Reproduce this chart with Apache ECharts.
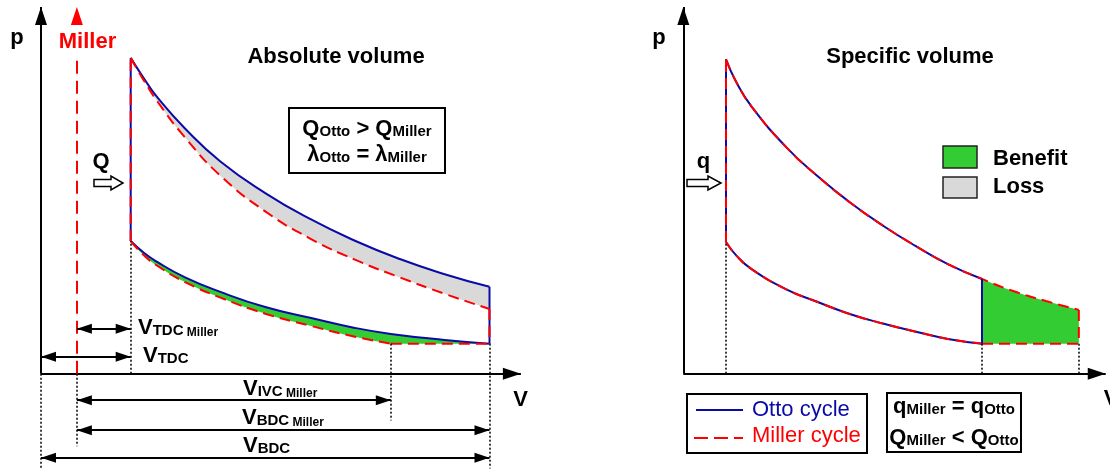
<!DOCTYPE html>
<html>
<head>
<meta charset="utf-8">
<title>Otto vs Miller cycle</title>
<script src="https://cdn.jsdelivr.net/npm/echarts@6/dist/echarts.min.js"></script>
<style>
  html, body { margin: 0; padding: 0; background: #ffffff; }
  #chart { width: 1110px; height: 470px; }
</style>
</head>
<body>
<div id="chart"></div>
<script>
// p–V diagrams of the Otto and the Miller cycle (arbitrary units)

// ---- Absolute volume ----
const vExpansion        = [1, 1.15, 1.3, 1.6, 2.0, 2.5, 3.0, 3.5, 4.0, 4.5, 5.0];
const pOttoExpansion    = [10.0, 9.34, 8.74, 7.78, 6.72, 5.72, 4.90, 4.21, 3.63, 3.15, 2.75];
const pMillerExpansion  = [10.0, 9.27, 8.61, 7.50, 6.27, 5.14, 4.28, 3.61, 3.05, 2.53, 2.05];
const vCompression      = [1, 1.15, 1.3, 1.6, 2.0, 2.5, 3.0, 3.5, 3.9, 4.5, 5.0];
const pOttoCompression  = [4.20, 3.82, 3.53, 3.06, 2.59, 2.11, 1.77, 1.45, 1.26, 1.07, 0.95];
const pMillerCompression= [4.20, 3.74, 3.41, 2.91, 2.41, 1.90, 1.52, 1.17, 0.95, 0.95, 0.95];
const V_TDC = 1, V_TDC_MILLER = 0.4, V_IVC_MILLER = 3.9, V_BDC = 5;
const P_EXHAUST = 0.95;
const IVC_INDEX = vCompression.indexOf(V_IVC_MILLER);

// ---- Specific volume ----
const vSpec             = [1, 1.25, 1.6, 2.4, 3.15, 3.9, 4.7, 5.45, 6.2, 7.0];
const pSpecExpansion    = [9.95, 9.21, 8.46, 7.19, 6.25, 5.43, 4.67, 4.04, 3.47, 3.0];
const pSpecCompression  = [4.17, 3.73, 3.31, 2.68, 2.27, 1.89, 1.58, 1.33, 1.10, 0.95];
const vSpecMiller       = [7.0, 7.75, 8.5, 9.27];
const pSpecMillerExpansion = [3.0, 2.61, 2.30, 2.02];
const V_BDC_SPEC = 7.0, V_BDC_SPEC_MILLER = 9.27;

// ---- layout (pixels per unit, axis ranges) ----
const Y0 = 375, SY = 31.69, P_MIN = -3.05, P_MAX = 11.83;
const LEFT  = { x0: 41,    sx: 89.7, vMin: -0.3, vMax: 5.5 };
const RIGHT = { x0: 683.5, sx: 43.3, vMin: -0.3, vMax: 10.0 };
const P_AXIS_END = 11.61;
const LEVEL = { tdcMiller: 1.42, tdc: 0.54, ivcMiller: -0.84, bdcMiller: -1.79, bdc: -2.66, floor: -3.0 };

const BLUE = '#0a0aa6', RED = '#ff0000', GREEN = '#33cc33', GREY = '#d9d9d9';
const FONT = '"Liberation Sans", Arial, Helvetica, sans-serif';
const DASH = [11, 6];
const SMOOTH = 0.5;

const pts = (xs, ys) => xs.map((x, i) => [x, ys[i]]);

function gridFor(c) {
  return { left: c.x0 + c.vMin * c.sx, width: (c.vMax - c.vMin) * c.sx,
           top: Y0 - P_MAX * SY, height: (P_MAX - P_MIN) * SY, containLabel: false, show: false };
}

function curve(g, data, color, dashed, z, smooth) {
  return {
    type: 'line', xAxisIndex: g, yAxisIndex: g, data, smooth: smooth ? SMOOTH : false,
    symbol: 'none', clip: false, silent: true, z,
    lineStyle: { color, width: 2, type: dashed ? DASH : 'solid', cap: 'butt' }
  };
}

// cubic segments through pixel points P[i0..i1], control points built like the line smoothing
function smoothSegments(P, i0, i1) {
  const n = P.length, cOut = [], cIn = [];
  for (let i = 0; i < n; i++) {
    const p = P[i];
    if (i === 0 || i === n - 1) { cOut[i] = p; cIn[i] = p; continue; }
    const a = P[i - 1], b = P[i + 1];
    const vx = b[0] - a[0], vy = b[1] - a[1];
    const lp = Math.hypot(p[0] - a[0], p[1] - a[1]);
    const ln = Math.hypot(b[0] - p[0], b[1] - p[1]);
    const r = ln / (lp + ln);
    cOut[i] = [p[0] + vx * SMOOTH * r, p[1] + vy * SMOOTH * r];
    cIn[i] = [p[0] - vx * SMOOTH * (1 - r), p[1] - vy * SMOOTH * (1 - r)];
  }
  let d = '';
  for (let i = i0; i < i1; i++) {
    d += ' C' + cOut[i][0] + ',' + cOut[i][1] + ' ' + cIn[i + 1][0] + ',' + cIn[i + 1][1] +
         ' ' + P[i + 1][0] + ',' + P[i + 1][1];
  }
  return d;
}

// closed region whose outline is a chain of pieces: {data, from, to, smooth, reverse}
function region(g, pieces, color, z) {
  return {
    type: 'custom', coordinateSystem: 'cartesian2d', xAxisIndex: g, yAxisIndex: g,
    data: [[0, 0]], silent: true, clip: false, z: z || 1,
    renderItem: function (params, api) {
      let d = '';
      pieces.forEach(function (pc, k) {
        let P = pc.data.map(function (v) { return api.coord(v); });
        let from = pc.from == null ? 0 : pc.from;
        let to = pc.to == null ? P.length - 1 : pc.to;
        if (pc.reverse) {
          P = P.slice().reverse();
          const n = P.length - 1, f = n - to, t = n - from;
          from = f; to = t;
        }
        d += (k === 0 ? 'M' : ' L') + P[from][0] + ',' + P[from][1];
        if (pc.smooth) d += smoothSegments(P, from, to);
        else for (let i = from + 1; i <= to; i++) d += ' L' + P[i][0] + ',' + P[i][1];
      });
      d += ' Z';
      return { type: 'path', shape: { pathData: d }, style: { fill: color, stroke: null } };
    }
  };
}

function seg(a, b, style, headFrom, headTo) {
  const end = (coord, head) => head
    ? { coord, symbol: 'triangle', symbolSize: head, symbolOffset: [0, '50%'], itemStyle: { color: style.color } }
    : { coord, symbol: 'none' };
  const from = end(a, headFrom);
  from.lineStyle = style;
  return [from, end(b, headTo)];
}

function guides(g, lines, points) {
  const s = {
    type: 'line', xAxisIndex: g, yAxisIndex: g, data: [[0, 0]], symbol: 'none', clip: false,
    silent: true, z: 6, color: '#000', lineStyle: { opacity: 0 },
    markLine: { silent: true, symbol: ['none', 'none'], label: { show: false },
                emphasis: { disabled: true }, animation: false, data: lines }
  };
  if (points) s.markPoint = { silent: true, label: { show: false }, animation: false, data: points };
  return s;
}

const axisStyle  = { color: '#000', width: 2, type: 'solid' };
const arrowStyle = { color: '#000', width: 1.8, type: 'solid' };
const dotStyle   = { color: '#000', width: 1.5, type: [2, 2] };
const millerMark = { color: RED, width: 2, type: [13, 7] };
const AXIS_HEAD = [12, 18], HEAD = [10, 15];

const leftGuides = [
  seg([0, 0], [0, P_AXIS_END], axisStyle, null, AXIS_HEAD),
  seg([0, 0], [5.35, 0], axisStyle, null, AXIS_HEAD),
  seg([V_TDC_MILLER, 0], [V_TDC_MILLER, 10.03], millerMark),
  seg([0, 0], [0, LEVEL.floor], dotStyle),
  seg([V_TDC_MILLER, 0], [V_TDC_MILLER, -2.30], dotStyle),
  seg([V_TDC, 0], [V_TDC, pOttoCompression[0]], dotStyle),
  seg([V_IVC_MILLER, P_EXHAUST], [V_IVC_MILLER, -1.48], dotStyle),
  seg([V_BDC, P_EXHAUST], [V_BDC, LEVEL.floor], dotStyle),
  seg([V_TDC_MILLER, LEVEL.tdcMiller], [V_TDC, LEVEL.tdcMiller], arrowStyle, HEAD, HEAD),
  seg([0, LEVEL.tdc], [V_TDC, LEVEL.tdc], arrowStyle, HEAD, HEAD),
  seg([V_TDC_MILLER, LEVEL.ivcMiller], [V_IVC_MILLER, LEVEL.ivcMiller], arrowStyle, HEAD, HEAD),
  seg([V_TDC_MILLER, LEVEL.bdcMiller], [V_BDC, LEVEL.bdcMiller], arrowStyle, HEAD, HEAD),
  seg([0, LEVEL.bdc], [V_BDC, LEVEL.bdc], arrowStyle, HEAD, HEAD)
];
const millerHead = [{ coord: [V_TDC_MILLER, 11.33], symbol: 'triangle', symbolSize: [12, 18], itemStyle: { color: RED } }];

const rightGuides = [
  seg([0, 0], [0, P_AXIS_END], axisStyle, null, AXIS_HEAD),
  seg([0, 0], [9.9, 0], axisStyle, null, AXIS_HEAD),
  seg([V_TDC, 0], [V_TDC, pSpecCompression[0]], dotStyle),
  seg([V_BDC_SPEC, 0], [V_BDC_SPEC, P_EXHAUST], dotStyle),
  seg([V_BDC_SPEC_MILLER, 0], [V_BDC_SPEC_MILLER, P_EXHAUST], dotStyle)
];

const millerExpansionSpec = pts(vSpec.concat(vSpecMiller.slice(1)), pSpecExpansion.concat(pSpecMillerExpansion.slice(1)));

const series = [
  // loss: between Otto and Miller expansion
  region(0, [
    { data: pts(vExpansion, pOttoExpansion), smooth: true },
    { data: pts(vExpansion, pMillerExpansion), smooth: true, reverse: true }
  ], GREY),
  // benefit: between Otto and Miller compression
  region(0, [
    { data: pts(vCompression, pOttoCompression), smooth: true },
    { data: [[V_BDC, P_EXHAUST], [V_IVC_MILLER, P_EXHAUST]] },
    { data: pts(vCompression.slice(0, IVC_INDEX + 1), pMillerCompression.slice(0, IVC_INDEX + 1)), smooth: true, reverse: true }
  ], GREEN),
  // benefit: extended Miller expansion (specific volume)
  region(1, [
    { data: millerExpansionSpec, from: vSpec.length - 1, smooth: true },
    { data: [[V_BDC_SPEC_MILLER, P_EXHAUST], [V_BDC_SPEC, P_EXHAUST]] }
  ], GREEN),

  guides(0, leftGuides, millerHead),
  guides(1, rightGuides),

  // Otto cycle, absolute volume
  curve(0, pts(vExpansion, pOttoExpansion), BLUE, false, 3, true),
  curve(0, pts(vCompression, pOttoCompression), BLUE, false, 3, true),
  curve(0, [[V_TDC, pOttoCompression[0]], [V_TDC, pOttoExpansion[0]]], BLUE, false, 3),
  curve(0, [[V_BDC, pOttoExpansion[pOttoExpansion.length - 1]], [V_BDC, pOttoCompression[pOttoCompression.length - 1]]], BLUE, false, 3),
  // Miller cycle, absolute volume
  curve(0, pts(vExpansion, pMillerExpansion), RED, true, 4, true),
  curve(0, pts(vCompression.slice(0, IVC_INDEX + 1), pMillerCompression.slice(0, IVC_INDEX + 1)), RED, true, 4, true),
  curve(0, [[V_IVC_MILLER, P_EXHAUST], [V_BDC, P_EXHAUST]], RED, true, 4),
  curve(0, [[V_TDC, pMillerCompression[0]], [V_TDC, pMillerExpansion[0]]], RED, true, 4),
  curve(0, [[V_BDC, pMillerExpansion[pMillerExpansion.length - 1]], [V_BDC, P_EXHAUST]], RED, true, 4),

  // Otto cycle, specific volume
  curve(1, pts(vSpec, pSpecExpansion), BLUE, false, 3, true),
  curve(1, pts(vSpec, pSpecCompression), BLUE, false, 3, true),
  curve(1, [[V_TDC, pSpecCompression[0]], [V_TDC, pSpecExpansion[0]]], BLUE, false, 3),
  // Miller cycle, specific volume
  curve(1, millerExpansionSpec, RED, true, 4, true),
  curve(1, pts(vSpec, pSpecCompression), RED, true, 4, true),
  curve(1, [[V_BDC_SPEC, P_EXHAUST], [V_BDC_SPEC_MILLER, P_EXHAUST]], RED, true, 4),
  curve(1, [[V_BDC_SPEC_MILLER, pSpecMillerExpansion[pSpecMillerExpansion.length - 1]], [V_BDC_SPEC_MILLER, P_EXHAUST]], RED, true, 4),
  curve(1, [[V_TDC, pSpecCompression[0]], [V_TDC, pSpecExpansion[0]]], RED, true, 4),
  curve(1, [[V_BDC_SPEC, pSpecExpansion[pSpecExpansion.length - 1]], [V_BDC_SPEC, P_EXHAUST]], BLUE, false, 5)
];

// ---- text and decorations ----
const rich = {
  m: { fontFamily: FONT, fontWeight: 'bold', fontSize: 22, lineHeight: 22 },
  s: { fontFamily: FONT, fontWeight: 'bold', fontSize: 15, lineHeight: 10, verticalAlign: 'bottom' },
  t: { fontFamily: FONT, fontWeight: 'bold', fontSize: 12, lineHeight: 8, verticalAlign: 'bottom' }
};
function text(x, y, str, align, color, weight) {
  return {
    type: 'text', x, y, z: 100, silent: true,
    style: {
      text: str, rich, fill: color || '#000',
      font: (weight || 'bold') + ' 22px ' + FONT,
      align: align || 'left', textAlign: align || 'left',
      verticalAlign: 'middle', textVerticalAlign: 'middle'
    }
  };
}
function box(x, y, w, h, fill, lw, stroke) {
  return { type: 'rect', z: 90, silent: true, shape: { x, y, width: w, height: h },
           style: { fill, stroke: stroke || '#000', lineWidth: lw } };
}
function hollowArrow(x0, x1, tipX, cy) {
  return { type: 'polygon', z: 90, silent: true,
    shape: { points: [[x0, cy - 3.5], [x1, cy - 3.5], [x1, cy - 7], [tipX, cy], [x1, cy + 7], [x1, cy + 3.5], [x0, cy + 3.5]] },
    style: { fill: '#fff', stroke: '#000', lineWidth: 1.5 } };
}

const graphic = [
  // left panel
  text(17, 38, 'p', 'center'),
  text(87.5, 42, 'Miller', 'center', RED),
  text(336, 57, 'Absolute volume', 'center'),
  text(101, 162, 'Q', 'center'),
  hollowArrow(94, 111, 123, 183),
  box(289, 108, 156, 65, '#fff', 2),
  text(367, 128.5, '{m|Q}{s|Otto}{m| > Q}{s|Miller}', 'center'),
  text(367, 154.5, '{m|λ}{s|Otto}{m| = λ}{s|Miller}', 'center'),
  text(138, 327.5, '{m|V}{s|TDC}{t| Miller}', 'left'),
  text(143, 355.5, '{m|V}{s|TDC}', 'left'),
  text(243, 388.5, '{m|V}{s|IVC}{t| Miller}', 'left'),
  text(242, 417.5, '{m|V}{s|BDC}{t| Miller}', 'left'),
  text(243, 445.5, '{m|V}{s|BDC}', 'left'),
  text(520.5, 399.5, 'V', 'center'),

  // right panel
  text(659, 38, 'p', 'center'),
  text(910, 57, 'Specific volume', 'center'),
  text(703.5, 162, 'q', 'center'),
  hollowArrow(687, 708, 721, 183),
  box(943, 146, 34, 22, GREEN, 1.5, '#222'),
  box(943, 177, 34, 21, GREY, 1.5, '#222'),
  text(993, 159, 'Benefit', 'left'),
  text(993, 187, 'Loss', 'left'),
  text(1111, 399, 'V', 'center'),

  box(687, 394, 180, 59, '#fff', 2),
  { type: 'line', z: 95, silent: true, shape: { x1: 696, y1: 410, x2: 743, y2: 410 }, style: { stroke: BLUE, lineWidth: 2 } },
  text(752, 410, 'Otto cycle', 'left', BLUE, 'normal'),
  { type: 'line', z: 95, silent: true, shape: { x1: 694, y1: 438, x2: 743, y2: 438 }, style: { stroke: RED, lineWidth: 2, lineDash: [14, 6] } },
  text(752, 436, 'Miller cycle', 'left', RED, 'normal'),

  box(887, 393, 134, 59, '#fff', 2),
  text(954, 406.5, '{m|q}{s|Miller}{m| = q}{s|Otto}', 'center'),
  text(954, 437.5, '{m|Q}{s|Miller}{m| < Q}{s|Otto}', 'center')
];

const chart = echarts.init(document.getElementById('chart'));
chart.setOption({
  animation: false,
  backgroundColor: '#ffffff',
  grid: [gridFor(LEFT), gridFor(RIGHT)],
  xAxis: [
    { type: 'value', gridIndex: 0, min: LEFT.vMin, max: LEFT.vMax, show: false },
    { type: 'value', gridIndex: 1, min: RIGHT.vMin, max: RIGHT.vMax, show: false }
  ],
  yAxis: [
    { type: 'value', gridIndex: 0, min: P_MIN, max: P_MAX, show: false },
    { type: 'value', gridIndex: 1, min: P_MIN, max: P_MAX, show: false }
  ],
  series,
  graphic
});
</script>
</body>
</html>
